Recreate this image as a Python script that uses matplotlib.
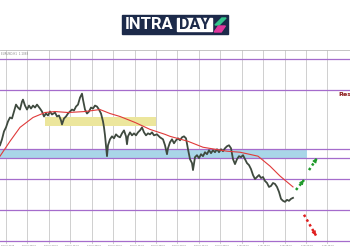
import matplotlib.pyplot as plt
from matplotlib.patches import Rectangle, Polygon

# hourly closes, bar index vs price
bar_x = [0, 2, 4, 6, 8, 10, 12, 14, 16, 18, 20, 22, 23, 25, 27, 29, 31, 33, 35, 37,
         40, 42, 44, 46, 48, 50, 52, 55, 57, 59, 61, 62, 64, 66, 68, 70, 72, 74, 76, 78,
         80, 82, 83, 85, 87, 89, 91, 93, 95, 97, 99, 101, 103, 104, 105, 106, 107, 108, 110, 112,
         114, 116, 118, 120, 122, 124, 126, 127, 128, 130, 132, 134, 136, 138, 140, 142, 144, 146, 148, 150,
         152, 154, 157, 160, 163, 165, 167, 168, 170, 172, 174, 176, 178, 180, 182, 184, 186, 188, 190, 192,
         193, 195, 197, 199, 201, 203, 205, 207, 209, 211, 213, 215, 217, 219, 221, 223, 225, 227, 229, 231,
         233, 235, 237, 239, 241, 243, 245, 247, 249, 251, 253, 255, 257, 259, 261, 263, 265, 267, 269, 271,
         273, 275, 277, 279, 281, 283, 285, 287, 289, 291, 293]
close = [1.1194, 1.1206, 1.1222, 1.1230, 1.1242, 1.1250, 1.1248, 1.1262, 1.1276, 1.1270,
         1.1266, 1.1282, 1.1286, 1.1274, 1.1266, 1.1274, 1.1268, 1.1274, 1.1270, 1.1276,
         1.1268, 1.1262, 1.1252, 1.1258, 1.1254, 1.1262, 1.1256, 1.1260, 1.1252, 1.1254,
         1.1244, 1.1236, 1.1248, 1.1252, 1.1258, 1.1262, 1.1266, 1.1264, 1.1272, 1.1276,
         1.1290, 1.1298, 1.1286, 1.1266, 1.1258, 1.1262, 1.1270, 1.1268, 1.1274, 1.1272,
         1.1266, 1.1258, 1.1242, 1.1230, 1.1214, 1.1194, 1.1172, 1.1194, 1.1206, 1.1212,
         1.1208, 1.1216, 1.1212, 1.1210, 1.1218, 1.1224, 1.1212, 1.1196, 1.1212, 1.1220,
         1.1214, 1.1218, 1.1214, 1.1220, 1.1224, 1.1230, 1.1220, 1.1214, 1.1218, 1.1216,
         1.1220, 1.1214, 1.1216, 1.1210, 1.1206, 1.1194, 1.1176, 1.1188, 1.1200, 1.1206,
         1.1198, 1.1204, 1.1208, 1.1204, 1.1210, 1.1212, 1.1208, 1.1186, 1.1166, 1.1158,
         1.1144, 1.1170, 1.1174, 1.1168, 1.1176, 1.1172, 1.1180, 1.1176, 1.1184, 1.1178,
         1.1184, 1.1180, 1.1186, 1.1180, 1.1186, 1.1182, 1.1188, 1.1192, 1.1194, 1.1188,
         1.1166, 1.1156, 1.1166, 1.1172, 1.1170, 1.1174, 1.1166, 1.1158, 1.1154, 1.1146,
         1.1134, 1.1126, 1.1130, 1.1134, 1.1128, 1.1130, 1.1122, 1.1118, 1.1110, 1.1112,
         1.1118, 1.1116, 1.1110, 1.1100, 1.1086, 1.1082, 1.1080, 1.1084, 1.1082, 1.1086, 1.1088]

# moving average
ma_x = [0, 10, 20, 33, 45, 55, 68, 85, 100, 110, 120, 135, 150, 165, 170, 188, 203, 227, 240, 258, 270, 280, 293]
ma_y = [1.1172, 1.1202, 1.1230, 1.1250, 1.1260, 1.1262, 1.1260, 1.1262, 1.1266, 1.1258, 1.1252, 1.1240,
        1.1226, 1.1216, 1.1212, 1.1202, 1.1190, 1.1182, 1.1180, 1.1172, 1.1152, 1.1132, 1.1110]

levels = [1.1368, 1.1306, 1.1186, 1.1168, 1.1126, 1.1064, 1.1002]
yellow_zone = (45, 156, 1.1232, 1.1250)
blue_zone = (0, 307, 1.1168, 1.1186)

# (x0, y0, x1, y1, colour)
arrows = [(296, 1.1104, 304, 1.1124, '#1f9a2a'),
          (309, 1.1144, 317, 1.1168, '#1f9a2a'),
          (304, 1.1054, 316, 1.1012, '#e02020')]

dates = ['19 Jun 2020', '22 Jun 08:00', '23 Jun 00:00', '23 Jun 16:00', '24 Jun 08:00', '25 Jun 00:00',
         '25 Jun 16:00', '26 Jun 08:00', '29 Jun 00:00', '29 Jun 16:00', '30 Jun 08:00', '1 Jul 00:00',
         '1 Jul 16:00', '2 Jul 08:00', '3 Jul 00:00', '3 Jul 16:00']

fig = plt.figure(figsize=(3.5, 2.5), dpi=100)
ax = fig.add_axes([0, 0.026, 1, 0.774])

ax.set_xlim(0, 350)
ax.set_ylim(1.0996, 1.1386)

grid_x = [6 + 21.43 * i for i in range(len(dates))]
for gx in grid_x:
    ax.axvline(gx, color='#c8c8c8', lw=0.6, zorder=0)

ax.add_patch(Rectangle((yellow_zone[0], yellow_zone[2]), yellow_zone[1] - yellow_zone[0],
                       yellow_zone[3] - yellow_zone[2], color='#ece69c', lw=0, zorder=1))
ax.add_patch(Rectangle((blue_zone[0], blue_zone[2]), blue_zone[1] - blue_zone[0],
                       blue_zone[3] - blue_zone[2], color='#a9d6e8', lw=0, zorder=1))

for lv in levels:
    ax.axhline(lv, color='#a56ccc', lw=0.9, zorder=2)

ax.plot(bar_x, close, color='#3f4a3f', lw=1.3, zorder=4)
ax.plot(ma_x, ma_y, color='#e03a3a', lw=0.8, zorder=5)

# scenario arrows
for x0, y0, x1, y1, c in arrows:
    ax.plot([x0, x1], [y0, y1], color=c, lw=1.8, ls=(0, (1, 1.2)), zorder=6)
    ax.annotate('', xy=(x1, y1), xytext=(x0 + 0.7 * (x1 - x0), y0 + 0.7 * (y1 - y0)),
                arrowprops=dict(arrowstyle='-|>', color=c, lw=0.8, shrinkA=0, shrinkB=0,
                                mutation_scale=6), zorder=7)

ax.text(338.5, 1.1296, 'Res', color='#8b1a1a', fontsize=4.6, fontweight='bold',
        ha='left', va='center')
ax.text(1, 1.1382, 'EURUSD,H1  1.1088', color='#888888', fontsize=2, va='top')

ax.set_xticks([])
ax.set_yticks([])
for side in ['left', 'right', 'bottom']:
    ax.spines[side].set_visible(False)
ax.spines['top'].set_color('#bbbbbb')
ax.spines['top'].set_linewidth(0.6)

for gx, d in zip(grid_x, dates):
    fig.text((gx - 5) / 350, 0.016, d, fontsize=1.6, color='#777777', va='center')

# logo
fig.patches.append(Rectangle((0.349, 0.864), 0.302, 0.076, transform=fig.transFigure,
                             color='#1c2a4a', zorder=10))
fig.patches.append(Rectangle((0.506, 0.876), 0.1, 0.052, transform=fig.transFigure,
                             color='white', zorder=11))
fig.text(0.356, 0.902, 'INTRA', color='white', fontsize=12, fontweight='bold',
         family='Roboto', va='center', ha='left', zorder=12)
fig.text(0.556, 0.902, 'DAY', color='#1c2a4a', fontsize=11.5, fontweight='bold',
         family='Roboto', va='center', ha='center', zorder=12)
fig.patches.append(Polygon([(0.614, 0.90), (0.634, 0.928), (0.646, 0.928), (0.626, 0.90)],
                           closed=True, transform=fig.transFigure, color='#34c58c', zorder=12))
fig.patches.append(Polygon([(0.612, 0.872), (0.632, 0.872), (0.644, 0.896), (0.624, 0.896)],
                           closed=True, transform=fig.transFigure, color='#e0369c', zorder=12))

fig.savefig('out.png', dpi=100)
